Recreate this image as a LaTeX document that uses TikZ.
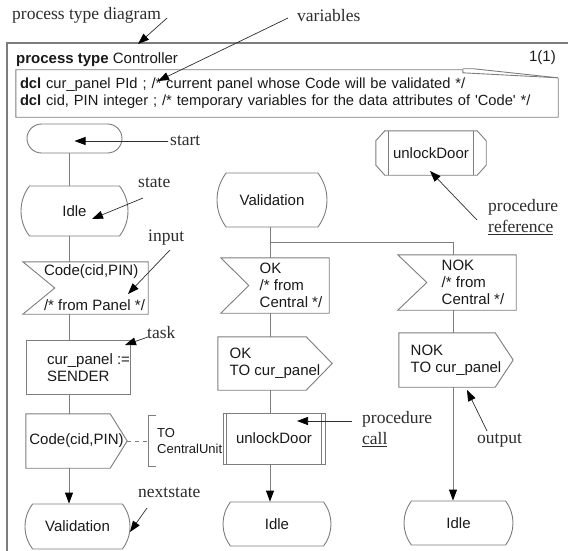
\documentclass[tikz,border=0pt]{standalone}
\usepackage{fontspec}
\setmainfont{Liberation Serif}
\setsansfont{Liberation Sans}
\usepackage{tikz}
\usetikzlibrary{positioning, arrows.meta, shapes.misc}
\definecolor{sdlline}{RGB}{125,125,125}
\definecolor{sdltext}{RGB}{25,25,25}
\definecolor{remarkgray}{RGB}{45,45,45}

\tikzset{
  sdl/.style={inner sep=0pt, align=left, text=sdltext, font=\sffamily\fontsize{15}{17}\selectfont},
  sdlframe/.style={sdl, draw=sdlline, line width=0.9pt},
  startsym/.style={sdlframe, rounded rectangle},
  statesym/.style={sdlframe, rounded rectangle, rounded rectangle arc length=75},
  outline/.style={draw=sdlline, line width=0.9pt},
  remark/.style={inner sep=0pt, anchor=west, align=left, text=remarkgray,
    font=\rmfamily\fontsize{17.5}{21}\selectfont},
  pointer/.style={draw=remarkgray, line width=0.7pt, -{Triangle[length=11pt, width=8pt, color=black]}},
  flow/.style={draw=sdlline, line width=0.9pt},
  flowarrow/.style={flow, -{Triangle[length=11pt, width=8pt, color=black]}}
}

\begin{document}
\begin{tikzpicture}[x=1pt, y=-1pt]
  \useasboundingbox (0,0) rectangle (568,551);

  % Rahmen
  \draw[sdlline, line width=1.2pt] (7,551) |- (568,43);
  \node[sdl, anchor=west] (title) at (16,60) {\textbf{process type} Controller};
  \node[sdl, anchor=east] (page) at (556,58) {1(1)};

  % Deklarationen
  \node[sdl, minimum width=542, minimum height=47, text width=534,
        font=\sffamily\fontsize{14.7}{17}\selectfont] (dcl) at (287,93.5)
    {\textbf{dcl} cur\_panel PId ; /* current panel whose Code will be validated */\\
     \textbf{dcl} cid, PIN integer ; /* temporary variables for the data attributes of \textquotesingle Code\textquotesingle{} */};
  \draw[outline] (dcl.north east) ++(0,8) -- (dcl.south east) -- (dcl.south west)
    -- (dcl.north west) -- ++(447,0) -- ++(0,3) -- ++(95,5);
  \draw[outline] (dcl.north west) ++(447,-1) -- ++(11,0) -- ++(84,9);

  \node[remark] (ldiagram) at (12,15) {process type diagram};
  \node[remark] (lvars) at (297,16) {variables};
  \coordinate (diagramtip) at (138,44);
  \coordinate (varstip) at (158,81);
  \draw[pointer] (ldiagram.east) ++(6,3) -- (diagramtip);
  \draw[pointer] (lvars.west) ++(-9,2) -- (varstip);

  \coordinate (col1) at (69,0);
  \coordinate (col2) at (270,0);
  \coordinate (col3) at (453,0);

  % linke Spalte
  \node[startsym, minimum width=95, minimum height=29] (start) at (74.5,138.5) {};
  \node[statesym, minimum width=107, minimum height=50] (idle1) at (74.5,211) {Idle};
  \node[sdl, minimum width=107, minimum height=52] (codein) at (94.5,288) {Code(cid,PIN)\\[18pt]/* from Panel */};
  \draw[outline] (codein.north west) ++(-18,0) -- (codein.north east) -- (codein.south east)
    -- ([xshift=-18pt]codein.south west) -- ([xshift=14pt]codein.west) -- cycle;
  \node[sdl, minimum width=83, minimum height=53] (task) at (88.5,367.5) {cur\_panel :=\\SENDER};
  \draw[outline] ([xshift=-20pt]task.north west) rectangle (task.south east);
  \node[sdl, minimum width=101, minimum height=54] (codeout) at (76.5,441) {Code(cid,PIN)};
  \draw[outline] (codeout.north west) -- ([xshift=-17pt]codeout.north east) -- (codeout.east)
    -- ([xshift=-17pt]codeout.south east) -- (codeout.south west) -- cycle;
  \node[statesym, minimum width=105, minimum height=45] (valid2) at (77.5,526.5) {Validation};
  \node[sdl, anchor=west, minimum height=50, inner xsep=9pt,
        font=\sffamily\fontsize{13}{16}\selectfont] (cmt) at (148,441) {TO\\CentralUnit};
  \draw[outline] (cmt.north west) ++(8,0) -- (cmt.north west) -- (cmt.south west) -- ++(8,0);

  \draw[flow] (start.south -| col1) -- (idle1.north -| col1);
  \draw[flow] (idle1.south -| col1) -- (codein.north -| col1);
  \draw[flow] (codein.south -| col1) -- (task.north -| col1);
  \draw[flow] (task.south -| col1) -- (codeout.north -| col1);
  \draw[flowarrow] (codeout.south -| col1) -- (valid2.north -| col1);
  \draw[flow, dash pattern=on 4pt off 4pt] (codeout.east) -- (codeout.east -| cmt.west);

  % mittlere Spalte
  \node[statesym, minimum width=110, minimum height=54] (valid1) at (272,200) {Validation};
  \node[sdl, minimum width=76, minimum height=55] (okin) at (291,285.5) {OK\\/* from\\Central */};
  \draw[outline] (okin.north west) ++(-32,0) -- (okin.north east) -- (okin.south east)
    -- ([xshift=-32pt]okin.south west) -- ([xshift=-4pt]okin.west) -- cycle;
  \node[sdl, minimum width=114, minimum height=53] (okout) at (275,363.5) {OK\\TO cur\_panel};
  \draw[outline] (okout.north west) -- ([xshift=-26pt]okout.north east) -- (okout.east)
    -- ([xshift=-26pt]okout.south east) -- (okout.south west) -- cycle;
  \node[sdlframe, minimum width=102, minimum height=51] (call) at (274,438.5) {unlockDoor};
  \draw[outline] ([xshift=4pt]call.north west) -- ([xshift=4pt]call.south west);
  \draw[outline] ([xshift=-4pt]call.north east) -- ([xshift=-4pt]call.south east);
  \node[statesym, minimum width=108, minimum height=44] (idle2) at (277,524) {Idle};

  % rechte Spalte
  \node[sdl, minimum width=110, minimum height=44] (unlockref) at (431,153) {unlockDoor};
  \draw[outline] ([xshift=9pt]unlockref.north west) -- ([xshift=-9pt]unlockref.north east)
    -- ([yshift=-10pt]unlockref.north east) -- ([yshift=10pt]unlockref.south east)
    -- ([xshift=-9pt]unlockref.south east) -- ([xshift=9pt]unlockref.south west)
    -- ([yshift=10pt]unlockref.south west) -- ([yshift=-10pt]unlockref.north west) -- cycle;
  \draw[outline] ([xshift=13pt]unlockref.north west) -- ([xshift=13pt]unlockref.south west);
  \draw[outline] ([xshift=-13pt]unlockref.north east) -- ([xshift=-13pt]unlockref.south east);
  \node[sdl, minimum width=86, minimum height=55] (nokin) at (473,282.5) {NOK\\/* from\\Central */};
  \draw[outline] (nokin.north west) ++(-32,0) -- (nokin.north east) -- (nokin.south east)
    -- ([xshift=-32pt]nokin.south west) -- ([xshift=-3pt]nokin.west) -- cycle;
  \node[sdl, minimum width=114, minimum height=54] (nokout) at (456,360) {NOK\\TO cur\_panel};
  \draw[outline] (nokout.north west) -- ([xshift=-18pt]nokout.north east) -- (nokout.east)
    -- ([xshift=-18pt]nokout.south east) -- (nokout.south west) -- cycle;
  \node[statesym, minimum width=109, minimum height=44] (idle3) at (458.5,523) {Idle};

  \draw[flow] (valid1.south -| col2) -- (okin.north -| col2);
  \draw[flow] (valid1.south -| col2) ++(0,15) -| (nokin.north -| col3);
  \draw[flow] (okin.south -| col2) -- (okout.north -| col2);
  \draw[flow] (okout.south -| col2) -- (call.north -| col2);
  \draw[flowarrow] (call.south -| col2) -- (idle2.north -| col2);
  \draw[flow] (nokin.south -| col3) -- (nokout.north -| col3);
  \draw[flowarrow] (nokout.south -| col3) -- (idle3.north -| col3);

  % Erklaerungen
  \node[remark] (lstart) at (170,141) {start};
  \draw[pointer] (lstart.west) ++(-2,0) -- (lstart.west -| start.center);
  \node[remark] (lstate) at (138,183) {state};
  \coordinate (statetip) at (92,219);
  \draw[pointer] (lstate.west) ++(5,15) -- (statetip);
  \node[remark] (linput) at (148,238) {input};
  \coordinate (inputtip) at (128,294);
  \draw[pointer] (linput.west) ++(22,12) -- (inputtip);
  \node[remark] (ltask) at (147,333) {task};
  \coordinate (tasktip) at (125,345);
  \draw[pointer] (ltask.west) ++(1,4) -- (tasktip);
  \node[remark] (lnext) at (138,493) {nextstate};
  \coordinate (nexttip) at (130,532);
  \draw[pointer] (lnext.west) ++(9,15) -- (nexttip);
  \node[remark] (lref) at (488,217) {procedure\\\underline{reference}};
  \coordinate (reftip) at (430,171);
  \draw[pointer] (lref.west) ++(-11,3) -- (reftip);
  \node[remark] (lcall) at (362,429) {procedure\\\underline{call}};
  \draw[pointer] (lcall.west) ++(-10,-8) -- ++(-55,0);
  \node[remark] (lout) at (477,440) {output};
  \coordinate (outtip) at (467,390);
  \draw[pointer] (lout.west) ++(10,-9) -- (outtip);
\end{tikzpicture}
\end{document}
